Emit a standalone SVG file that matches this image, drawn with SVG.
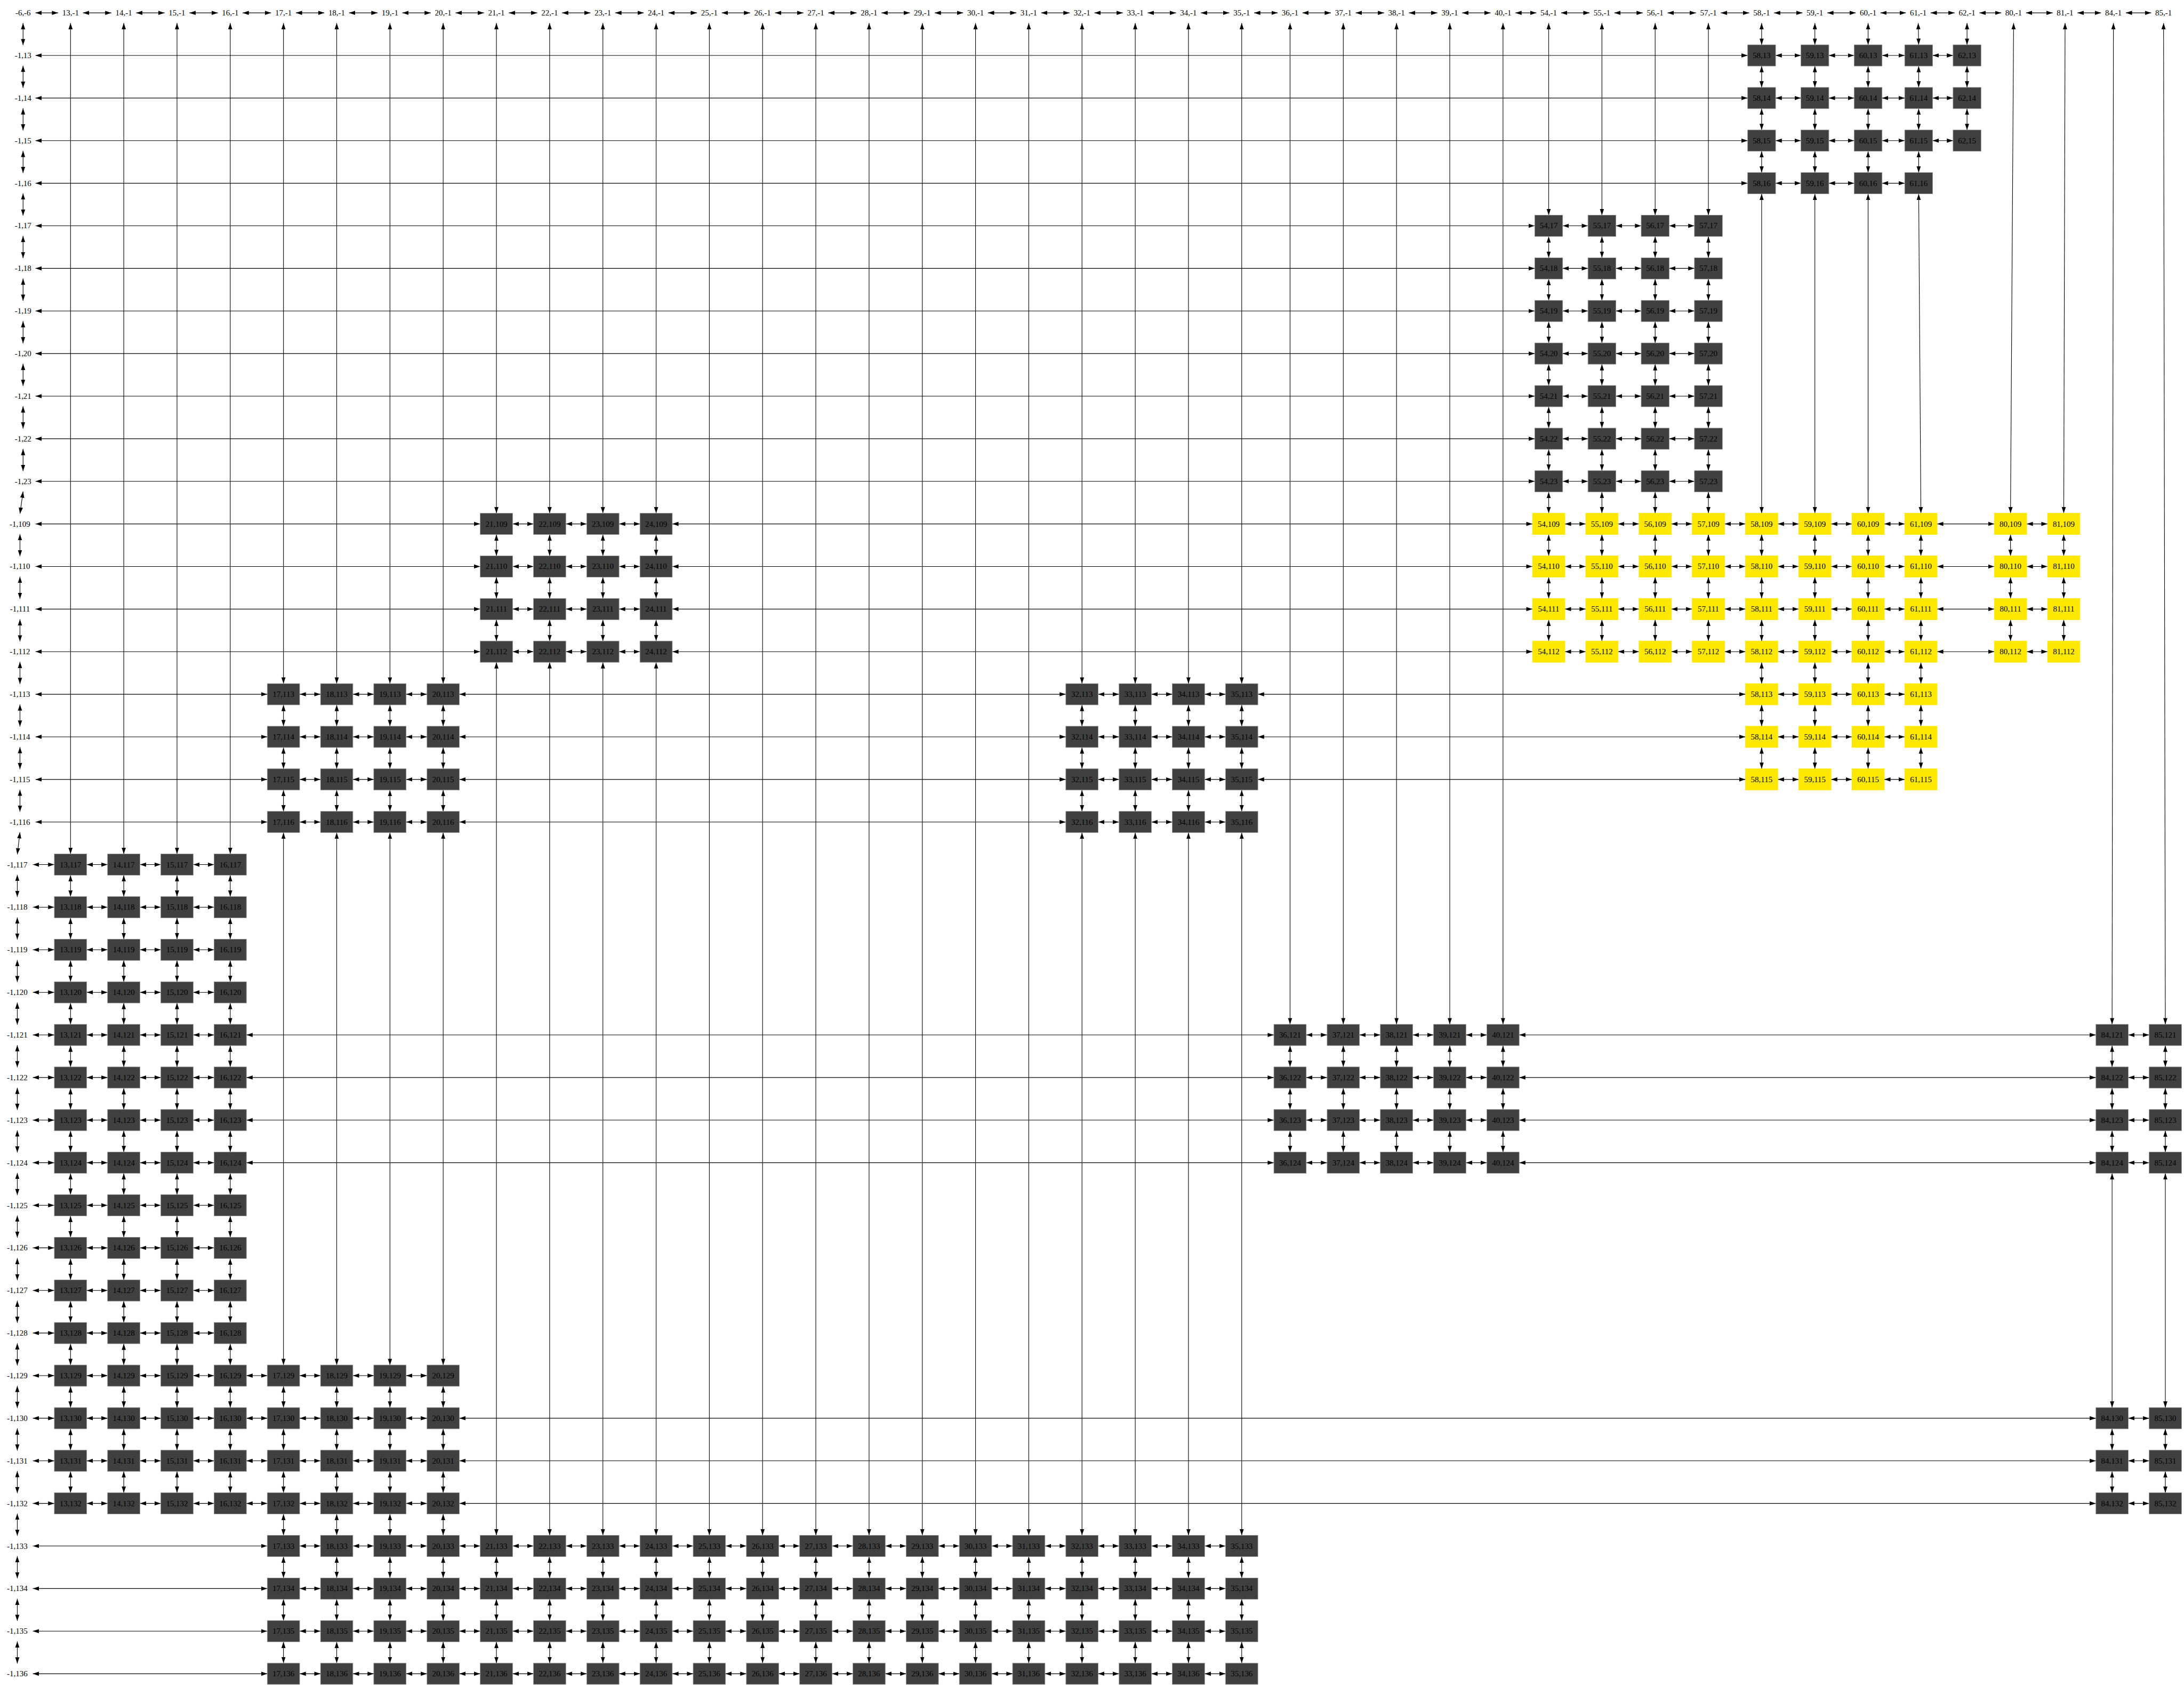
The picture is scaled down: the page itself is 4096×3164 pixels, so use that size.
<svg xmlns="http://www.w3.org/2000/svg" xmlns:xlink="http://www.w3.org/1999/xlink" width="4096" height="3164" viewBox="0 0 4096 3164">
<style>
text{font-family:"Liberation Serif","Times New Roman",serif;font-size:18px;text-anchor:middle;dominant-baseline:central;fill:#000}
.dk use{fill:#404040;stroke:#999;stroke-width:1}
.yl use{fill:#ffe800;stroke:#ffe800;stroke-width:1}
#edges path{fill:none;stroke:#000;stroke-width:1.33;marker-start:url(#a);marker-end:url(#a)}
</style>
<defs>
<rect id="s" x="-31.5" y="-24" width="63" height="48"/>
<rect id="w" x="-36.5" y="-24" width="73" height="48"/>
<marker id="a" viewBox="0 0 14 10" refX="14" refY="5" markerWidth="14" markerHeight="10" markerUnits="userSpaceOnUse" orient="auto-start-reverse"><path d="M0 0.3L14 5L0 9.7Z" fill="#000"/></marker>
</defs>
<rect width="4096" height="3164" fill="#fff"/>
<g transform="scale(0.832)">
<g id="edges">
<path d="M80 29H131"/><path d="M187 29H251"/><path d="M307 29H371"/><path d="M427 29H491"/><path d="M547 29H611"/><path d="M667 29H731"/><path d="M787 29H851"/><path d="M907 29H971"/><path d="M1027 29H1091"/><path d="M1147 29H1211"/><path d="M1267 29H1331"/><path d="M1387 29H1451"/><path d="M1507 29H1571"/><path d="M1627 29H1691"/><path d="M1747 29H1811"/><path d="M1867 29H1931"/><path d="M1987 29H2051"/><path d="M2107 29H2171"/><path d="M2227 29H2291"/><path d="M2347 29H2411"/><path d="M2467 29H2531"/><path d="M2587 29H2651"/><path d="M2707 29H2771"/><path d="M2827 29H2880"/><path d="M2936 29H3000"/><path d="M3056 29H3120"/><path d="M3176 29H3240"/><path d="M3296 29H3360"/><path d="M3416 29H3463"/><path d="M3519 29H3583"/><path d="M3639 29H3703"/><path d="M3759 29H3823"/><path d="M3879 29H3943"/><path d="M3999 29H4063"/><path d="M4119 29H4183"/><path d="M4239 29H4296"/><path d="M4352 29H4406"/><path d="M4462 29H4511"/><path d="M4567 29H4627"/><path d="M4683 29H4736"/><path d="M4792 29H4849"/>
<path d="M52 52V102"/><path d="M52 148V198"/><path d="M52 244V294"/><path d="M52 340V390"/><path d="M52 436V486"/><path d="M52 532V582"/><path d="M52 628V678"/><path d="M52 724V774"/><path d="M52 820V870"/><path d="M52 916V966"/><path d="M52 1012V1062"/><path d="M52 1108L45 1158"/><path d="M45 1204V1254"/><path d="M45 1300V1350"/><path d="M45 1396V1446"/><path d="M45 1492V1542"/><path d="M45 1588V1638"/><path d="M45 1684V1734"/><path d="M45 1780V1830"/><path d="M45 1876L39 1926"/><path d="M39 1972V2022"/><path d="M39 2068V2118"/><path d="M39 2164V2214"/><path d="M39 2260V2310"/><path d="M39 2356V2406"/><path d="M39 2452V2502"/><path d="M39 2548V2598"/><path d="M39 2644V2694"/><path d="M39 2740V2790"/><path d="M39 2836V2886"/><path d="M39 2932V2982"/><path d="M39 3028V3078"/><path d="M39 3124V3174"/><path d="M39 3220V3270"/><path d="M39 3316V3366"/><path d="M39 3412V3462"/><path d="M39 3508V3558"/><path d="M39 3604V3654"/><path d="M39 3700V3750"/>
<path d="M80 125H3939.5"/><path d="M4002.5 125H4059.5"/><path d="M4122.5 125H4179.5"/><path d="M4242.5 125H4293.5"/><path d="M4356.5 125H4402.5"/>
<path d="M80 221H3939.5"/><path d="M4002.5 221H4059.5"/><path d="M4122.5 221H4179.5"/><path d="M4242.5 221H4293.5"/><path d="M4356.5 221H4402.5"/>
<path d="M80 317H3939.5"/><path d="M4002.5 317H4059.5"/><path d="M4122.5 317H4179.5"/><path d="M4242.5 317H4293.5"/><path d="M4356.5 317H4402.5"/>
<path d="M80 413H3939.5"/><path d="M4002.5 413H4059.5"/><path d="M4122.5 413H4179.5"/><path d="M4242.5 413H4293.5"/>
<path d="M80 509H3459.5"/><path d="M3522.5 509H3579.5"/><path d="M3642.5 509H3699.5"/><path d="M3762.5 509H3819.5"/>
<path d="M80 605H3459.5"/><path d="M3522.5 605H3579.5"/><path d="M3642.5 605H3699.5"/><path d="M3762.5 605H3819.5"/>
<path d="M80 701H3459.5"/><path d="M3522.5 701H3579.5"/><path d="M3642.5 701H3699.5"/><path d="M3762.5 701H3819.5"/>
<path d="M80 797H3459.5"/><path d="M3522.5 797H3579.5"/><path d="M3642.5 797H3699.5"/><path d="M3762.5 797H3819.5"/>
<path d="M80 893H3459.5"/><path d="M3522.5 893H3579.5"/><path d="M3642.5 893H3699.5"/><path d="M3762.5 893H3819.5"/>
<path d="M80 989H3459.5"/><path d="M3522.5 989H3579.5"/><path d="M3642.5 989H3699.5"/><path d="M3762.5 989H3819.5"/>
<path d="M80 1085H3459.5"/><path d="M3522.5 1085H3579.5"/><path d="M3642.5 1085H3699.5"/><path d="M3762.5 1085H3819.5"/>
<path d="M80 1181H1082.5"/><path d="M1155.5 1181H1202.5"/><path d="M1275.5 1181H1322.5"/><path d="M1395.5 1181H1442.5"/><path d="M1515.5 1181H3454.5"/><path d="M3527.5 1181H3574.5"/><path d="M3647.5 1181H3694.5"/><path d="M3767.5 1181H3814.5"/><path d="M3887.5 1181H3934.5"/><path d="M4007.5 1181H4054.5"/><path d="M4127.5 1181H4174.5"/><path d="M4247.5 1181H4293.5"/><path d="M4366.5 1181H4495.5"/><path d="M4568.5 1181H4615.5"/>
<path d="M80 1277H1082.5"/><path d="M1155.5 1277H1202.5"/><path d="M1275.5 1277H1322.5"/><path d="M1395.5 1277H1442.5"/><path d="M1515.5 1277H3454.5"/><path d="M3527.5 1277H3574.5"/><path d="M3647.5 1277H3694.5"/><path d="M3767.5 1277H3814.5"/><path d="M3887.5 1277H3934.5"/><path d="M4007.5 1277H4054.5"/><path d="M4127.5 1277H4174.5"/><path d="M4247.5 1277H4293.5"/><path d="M4366.5 1277H4495.5"/><path d="M4568.5 1277H4615.5"/>
<path d="M80 1373H1082.5"/><path d="M1155.5 1373H1202.5"/><path d="M1275.5 1373H1322.5"/><path d="M1395.5 1373H1442.5"/><path d="M1515.5 1373H3454.5"/><path d="M3527.5 1373H3574.5"/><path d="M3647.5 1373H3694.5"/><path d="M3767.5 1373H3814.5"/><path d="M3887.5 1373H3934.5"/><path d="M4007.5 1373H4054.5"/><path d="M4127.5 1373H4174.5"/><path d="M4247.5 1373H4293.5"/><path d="M4366.5 1373H4495.5"/><path d="M4568.5 1373H4615.5"/>
<path d="M80 1469H1082.5"/><path d="M1155.5 1469H1202.5"/><path d="M1275.5 1469H1322.5"/><path d="M1395.5 1469H1442.5"/><path d="M1515.5 1469H3454.5"/><path d="M3527.5 1469H3574.5"/><path d="M3647.5 1469H3694.5"/><path d="M3767.5 1469H3814.5"/><path d="M3887.5 1469H3934.5"/><path d="M4007.5 1469H4054.5"/><path d="M4127.5 1469H4174.5"/><path d="M4247.5 1469H4293.5"/><path d="M4366.5 1469H4495.5"/><path d="M4568.5 1469H4615.5"/>
<path d="M80 1565H602.5"/><path d="M675.5 1565H722.5"/><path d="M795.5 1565H842.5"/><path d="M915.5 1565H962.5"/><path d="M1035.5 1565H2402.5"/><path d="M2475.5 1565H2522.5"/><path d="M2595.5 1565H2642.5"/><path d="M2715.5 1565H2762.5"/><path d="M2835.5 1565H3934.5"/><path d="M4007.5 1565H4054.5"/><path d="M4127.5 1565H4174.5"/><path d="M4247.5 1565H4293.5"/>
<path d="M80 1661H602.5"/><path d="M675.5 1661H722.5"/><path d="M795.5 1661H842.5"/><path d="M915.5 1661H962.5"/><path d="M1035.5 1661H2402.5"/><path d="M2475.5 1661H2522.5"/><path d="M2595.5 1661H2642.5"/><path d="M2715.5 1661H2762.5"/><path d="M2835.5 1661H3934.5"/><path d="M4007.5 1661H4054.5"/><path d="M4127.5 1661H4174.5"/><path d="M4247.5 1661H4293.5"/>
<path d="M80 1757H602.5"/><path d="M675.5 1757H722.5"/><path d="M795.5 1757H842.5"/><path d="M915.5 1757H962.5"/><path d="M1035.5 1757H2402.5"/><path d="M2475.5 1757H2522.5"/><path d="M2595.5 1757H2642.5"/><path d="M2715.5 1757H2762.5"/><path d="M2835.5 1757H3934.5"/><path d="M4007.5 1757H4054.5"/><path d="M4127.5 1757H4174.5"/><path d="M4247.5 1757H4293.5"/>
<path d="M80 1853H602.5"/><path d="M675.5 1853H722.5"/><path d="M795.5 1853H842.5"/><path d="M915.5 1853H962.5"/><path d="M1035.5 1853H2402.5"/><path d="M2475.5 1853H2522.5"/><path d="M2595.5 1853H2642.5"/><path d="M2715.5 1853H2762.5"/>
<path d="M74 1949H122.5"/><path d="M195.5 1949H242.5"/><path d="M315.5 1949H362.5"/><path d="M435.5 1949H482.5"/>
<path d="M74 2045H122.5"/><path d="M195.5 2045H242.5"/><path d="M315.5 2045H362.5"/><path d="M435.5 2045H482.5"/>
<path d="M74 2141H122.5"/><path d="M195.5 2141H242.5"/><path d="M315.5 2141H362.5"/><path d="M435.5 2141H482.5"/>
<path d="M74 2237H122.5"/><path d="M195.5 2237H242.5"/><path d="M315.5 2237H362.5"/><path d="M435.5 2237H482.5"/>
<path d="M74 2333H122.5"/><path d="M195.5 2333H242.5"/><path d="M315.5 2333H362.5"/><path d="M435.5 2333H482.5"/><path d="M555.5 2333H2871.5"/><path d="M2944.5 2333H2991.5"/><path d="M3064.5 2333H3111.5"/><path d="M3184.5 2333H3231.5"/><path d="M3304.5 2333H3351.5"/><path d="M3424.5 2333H4724.5"/><path d="M4797.5 2333H4844.5"/>
<path d="M74 2429H122.5"/><path d="M195.5 2429H242.5"/><path d="M315.5 2429H362.5"/><path d="M435.5 2429H482.5"/><path d="M555.5 2429H2871.5"/><path d="M2944.5 2429H2991.5"/><path d="M3064.5 2429H3111.5"/><path d="M3184.5 2429H3231.5"/><path d="M3304.5 2429H3351.5"/><path d="M3424.5 2429H4724.5"/><path d="M4797.5 2429H4844.5"/>
<path d="M74 2525H122.5"/><path d="M195.5 2525H242.5"/><path d="M315.5 2525H362.5"/><path d="M435.5 2525H482.5"/><path d="M555.5 2525H2871.5"/><path d="M2944.5 2525H2991.5"/><path d="M3064.5 2525H3111.5"/><path d="M3184.5 2525H3231.5"/><path d="M3304.5 2525H3351.5"/><path d="M3424.5 2525H4724.5"/><path d="M4797.5 2525H4844.5"/>
<path d="M74 2621H122.5"/><path d="M195.5 2621H242.5"/><path d="M315.5 2621H362.5"/><path d="M435.5 2621H482.5"/><path d="M555.5 2621H2871.5"/><path d="M2944.5 2621H2991.5"/><path d="M3064.5 2621H3111.5"/><path d="M3184.5 2621H3231.5"/><path d="M3304.5 2621H3351.5"/><path d="M3424.5 2621H4724.5"/><path d="M4797.5 2621H4844.5"/>
<path d="M74 2717H122.5"/><path d="M195.5 2717H242.5"/><path d="M315.5 2717H362.5"/><path d="M435.5 2717H482.5"/>
<path d="M74 2813H122.5"/><path d="M195.5 2813H242.5"/><path d="M315.5 2813H362.5"/><path d="M435.5 2813H482.5"/>
<path d="M74 2909H122.5"/><path d="M195.5 2909H242.5"/><path d="M315.5 2909H362.5"/><path d="M435.5 2909H482.5"/>
<path d="M74 3005H122.5"/><path d="M195.5 3005H242.5"/><path d="M315.5 3005H362.5"/><path d="M435.5 3005H482.5"/>
<path d="M74 3101H122.5"/><path d="M195.5 3101H242.5"/><path d="M315.5 3101H362.5"/><path d="M435.5 3101H482.5"/><path d="M555.5 3101H602.5"/><path d="M675.5 3101H722.5"/><path d="M795.5 3101H842.5"/><path d="M915.5 3101H962.5"/>
<path d="M74 3197H122.5"/><path d="M195.5 3197H242.5"/><path d="M315.5 3197H362.5"/><path d="M435.5 3197H482.5"/><path d="M555.5 3197H602.5"/><path d="M675.5 3197H722.5"/><path d="M795.5 3197H842.5"/><path d="M915.5 3197H962.5"/><path d="M1035.5 3197H4724.5"/><path d="M4797.5 3197H4844.5"/>
<path d="M74 3293H122.5"/><path d="M195.5 3293H242.5"/><path d="M315.5 3293H362.5"/><path d="M435.5 3293H482.5"/><path d="M555.5 3293H602.5"/><path d="M675.5 3293H722.5"/><path d="M795.5 3293H842.5"/><path d="M915.5 3293H962.5"/><path d="M1035.5 3293H4724.5"/><path d="M4797.5 3293H4844.5"/>
<path d="M74 3389H122.5"/><path d="M195.5 3389H242.5"/><path d="M315.5 3389H362.5"/><path d="M435.5 3389H482.5"/><path d="M555.5 3389H602.5"/><path d="M675.5 3389H722.5"/><path d="M795.5 3389H842.5"/><path d="M915.5 3389H962.5"/><path d="M1035.5 3389H4724.5"/><path d="M4797.5 3389H4844.5"/>
<path d="M74 3485H602.5"/><path d="M675.5 3485H722.5"/><path d="M795.5 3485H842.5"/><path d="M915.5 3485H962.5"/><path d="M1035.5 3485H1082.5"/><path d="M1155.5 3485H1202.5"/><path d="M1275.5 3485H1322.5"/><path d="M1395.5 3485H1442.5"/><path d="M1515.5 3485H1562.5"/><path d="M1635.5 3485H1682.5"/><path d="M1755.5 3485H1802.5"/><path d="M1875.5 3485H1922.5"/><path d="M1995.5 3485H2042.5"/><path d="M2115.5 3485H2162.5"/><path d="M2235.5 3485H2282.5"/><path d="M2355.5 3485H2402.5"/><path d="M2475.5 3485H2522.5"/><path d="M2595.5 3485H2642.5"/><path d="M2715.5 3485H2762.5"/>
<path d="M74 3581H602.5"/><path d="M675.5 3581H722.5"/><path d="M795.5 3581H842.5"/><path d="M915.5 3581H962.5"/><path d="M1035.5 3581H1082.5"/><path d="M1155.5 3581H1202.5"/><path d="M1275.5 3581H1322.5"/><path d="M1395.5 3581H1442.5"/><path d="M1515.5 3581H1562.5"/><path d="M1635.5 3581H1682.5"/><path d="M1755.5 3581H1802.5"/><path d="M1875.5 3581H1922.5"/><path d="M1995.5 3581H2042.5"/><path d="M2115.5 3581H2162.5"/><path d="M2235.5 3581H2282.5"/><path d="M2355.5 3581H2402.5"/><path d="M2475.5 3581H2522.5"/><path d="M2595.5 3581H2642.5"/><path d="M2715.5 3581H2762.5"/>
<path d="M74 3677H602.5"/><path d="M675.5 3677H722.5"/><path d="M795.5 3677H842.5"/><path d="M915.5 3677H962.5"/><path d="M1035.5 3677H1082.5"/><path d="M1155.5 3677H1202.5"/><path d="M1275.5 3677H1322.5"/><path d="M1395.5 3677H1442.5"/><path d="M1515.5 3677H1562.5"/><path d="M1635.5 3677H1682.5"/><path d="M1755.5 3677H1802.5"/><path d="M1875.5 3677H1922.5"/><path d="M1995.5 3677H2042.5"/><path d="M2115.5 3677H2162.5"/><path d="M2235.5 3677H2282.5"/><path d="M2355.5 3677H2402.5"/><path d="M2475.5 3677H2522.5"/><path d="M2595.5 3677H2642.5"/><path d="M2715.5 3677H2762.5"/>
<path d="M74 3773H602.5"/><path d="M675.5 3773H722.5"/><path d="M795.5 3773H842.5"/><path d="M915.5 3773H962.5"/><path d="M1035.5 3773H1082.5"/><path d="M1155.5 3773H1202.5"/><path d="M1275.5 3773H1322.5"/><path d="M1395.5 3773H1442.5"/><path d="M1515.5 3773H1562.5"/><path d="M1635.5 3773H1682.5"/><path d="M1755.5 3773H1802.5"/><path d="M1875.5 3773H1922.5"/><path d="M1995.5 3773H2042.5"/><path d="M2115.5 3773H2162.5"/><path d="M2235.5 3773H2282.5"/><path d="M2355.5 3773H2402.5"/><path d="M2475.5 3773H2522.5"/><path d="M2595.5 3773H2642.5"/><path d="M2715.5 3773H2762.5"/>
<path d="M159 52V1925"/><path d="M159 1973V2021"/><path d="M159 2069V2117"/><path d="M159 2165V2213"/><path d="M159 2261V2309"/><path d="M159 2357V2405"/><path d="M159 2453V2501"/><path d="M159 2549V2597"/><path d="M159 2645V2693"/><path d="M159 2741V2789"/><path d="M159 2837V2885"/><path d="M159 2933V2981"/><path d="M159 3029V3077"/><path d="M159 3125V3173"/><path d="M159 3221V3269"/><path d="M159 3317V3365"/>
<path d="M279 52V1925"/><path d="M279 1973V2021"/><path d="M279 2069V2117"/><path d="M279 2165V2213"/><path d="M279 2261V2309"/><path d="M279 2357V2405"/><path d="M279 2453V2501"/><path d="M279 2549V2597"/><path d="M279 2645V2693"/><path d="M279 2741V2789"/><path d="M279 2837V2885"/><path d="M279 2933V2981"/><path d="M279 3029V3077"/><path d="M279 3125V3173"/><path d="M279 3221V3269"/><path d="M279 3317V3365"/>
<path d="M399 52V1925"/><path d="M399 1973V2021"/><path d="M399 2069V2117"/><path d="M399 2165V2213"/><path d="M399 2261V2309"/><path d="M399 2357V2405"/><path d="M399 2453V2501"/><path d="M399 2549V2597"/><path d="M399 2645V2693"/><path d="M399 2741V2789"/><path d="M399 2837V2885"/><path d="M399 2933V2981"/><path d="M399 3029V3077"/><path d="M399 3125V3173"/><path d="M399 3221V3269"/><path d="M399 3317V3365"/>
<path d="M519 52V1925"/><path d="M519 1973V2021"/><path d="M519 2069V2117"/><path d="M519 2165V2213"/><path d="M519 2261V2309"/><path d="M519 2357V2405"/><path d="M519 2453V2501"/><path d="M519 2549V2597"/><path d="M519 2645V2693"/><path d="M519 2741V2789"/><path d="M519 2837V2885"/><path d="M519 2933V2981"/><path d="M519 3029V3077"/><path d="M519 3125V3173"/><path d="M519 3221V3269"/><path d="M519 3317V3365"/>
<path d="M639 52V1541"/><path d="M639 1589V1637"/><path d="M639 1685V1733"/><path d="M639 1781V1829"/><path d="M639 1877V3077"/><path d="M639 3125V3173"/><path d="M639 3221V3269"/><path d="M639 3317V3365"/><path d="M639 3413V3461"/><path d="M639 3509V3557"/><path d="M639 3605V3653"/><path d="M639 3701V3749"/>
<path d="M759 52V1541"/><path d="M759 1589V1637"/><path d="M759 1685V1733"/><path d="M759 1781V1829"/><path d="M759 1877V3077"/><path d="M759 3125V3173"/><path d="M759 3221V3269"/><path d="M759 3317V3365"/><path d="M759 3413V3461"/><path d="M759 3509V3557"/><path d="M759 3605V3653"/><path d="M759 3701V3749"/>
<path d="M879 52V1541"/><path d="M879 1589V1637"/><path d="M879 1685V1733"/><path d="M879 1781V1829"/><path d="M879 1877V3077"/><path d="M879 3125V3173"/><path d="M879 3221V3269"/><path d="M879 3317V3365"/><path d="M879 3413V3461"/><path d="M879 3509V3557"/><path d="M879 3605V3653"/><path d="M879 3701V3749"/>
<path d="M999 52V1541"/><path d="M999 1589V1637"/><path d="M999 1685V1733"/><path d="M999 1781V1829"/><path d="M999 1877V3077"/><path d="M999 3125V3173"/><path d="M999 3221V3269"/><path d="M999 3317V3365"/><path d="M999 3413V3461"/><path d="M999 3509V3557"/><path d="M999 3605V3653"/><path d="M999 3701V3749"/>
<path d="M1119 52V1157"/><path d="M1119 1205V1253"/><path d="M1119 1301V1349"/><path d="M1119 1397V1445"/><path d="M1119 1493V3461"/><path d="M1119 3509V3557"/><path d="M1119 3605V3653"/><path d="M1119 3701V3749"/>
<path d="M1239 52V1157"/><path d="M1239 1205V1253"/><path d="M1239 1301V1349"/><path d="M1239 1397V1445"/><path d="M1239 1493V3461"/><path d="M1239 3509V3557"/><path d="M1239 3605V3653"/><path d="M1239 3701V3749"/>
<path d="M1359 52V1157"/><path d="M1359 1205V1253"/><path d="M1359 1301V1349"/><path d="M1359 1397V1445"/><path d="M1359 1493V3461"/><path d="M1359 3509V3557"/><path d="M1359 3605V3653"/><path d="M1359 3701V3749"/>
<path d="M1479 52V1157"/><path d="M1479 1205V1253"/><path d="M1479 1301V1349"/><path d="M1479 1397V1445"/><path d="M1479 1493V3461"/><path d="M1479 3509V3557"/><path d="M1479 3605V3653"/><path d="M1479 3701V3749"/>
<path d="M1599 52V3461"/><path d="M1599 3509V3557"/><path d="M1599 3605V3653"/><path d="M1599 3701V3749"/>
<path d="M1719 52V3461"/><path d="M1719 3509V3557"/><path d="M1719 3605V3653"/><path d="M1719 3701V3749"/>
<path d="M1839 52V3461"/><path d="M1839 3509V3557"/><path d="M1839 3605V3653"/><path d="M1839 3701V3749"/>
<path d="M1959 52V3461"/><path d="M1959 3509V3557"/><path d="M1959 3605V3653"/><path d="M1959 3701V3749"/>
<path d="M2079 52V3461"/><path d="M2079 3509V3557"/><path d="M2079 3605V3653"/><path d="M2079 3701V3749"/>
<path d="M2199 52V3461"/><path d="M2199 3509V3557"/><path d="M2199 3605V3653"/><path d="M2199 3701V3749"/>
<path d="M2319 52V3461"/><path d="M2319 3509V3557"/><path d="M2319 3605V3653"/><path d="M2319 3701V3749"/>
<path d="M2439 52V1541"/><path d="M2439 1589V1637"/><path d="M2439 1685V1733"/><path d="M2439 1781V1829"/><path d="M2439 1877V3461"/><path d="M2439 3509V3557"/><path d="M2439 3605V3653"/><path d="M2439 3701V3749"/>
<path d="M2559 52V1541"/><path d="M2559 1589V1637"/><path d="M2559 1685V1733"/><path d="M2559 1781V1829"/><path d="M2559 1877V3461"/><path d="M2559 3509V3557"/><path d="M2559 3605V3653"/><path d="M2559 3701V3749"/>
<path d="M2679 52V1541"/><path d="M2679 1589V1637"/><path d="M2679 1685V1733"/><path d="M2679 1781V1829"/><path d="M2679 1877V3461"/><path d="M2679 3509V3557"/><path d="M2679 3605V3653"/><path d="M2679 3701V3749"/>
<path d="M2799 52V1541"/><path d="M2799 1589V1637"/><path d="M2799 1685V1733"/><path d="M2799 1781V1829"/><path d="M2799 1877V3461"/><path d="M2799 3509V3557"/><path d="M2799 3605V3653"/><path d="M2799 3701V3749"/>
<path d="M2908 52V2309"/><path d="M2908 2357V2405"/><path d="M2908 2453V2501"/><path d="M2908 2549V2597"/>
<path d="M3028 52V2309"/><path d="M3028 2357V2405"/><path d="M3028 2453V2501"/><path d="M3028 2549V2597"/>
<path d="M3148 52V2309"/><path d="M3148 2357V2405"/><path d="M3148 2453V2501"/><path d="M3148 2549V2597"/>
<path d="M3268 52V2309"/><path d="M3268 2357V2405"/><path d="M3268 2453V2501"/><path d="M3268 2549V2597"/>
<path d="M3388 52V2309"/><path d="M3388 2357V2405"/><path d="M3388 2453V2501"/><path d="M3388 2549V2597"/>
<path d="M3491 52V485"/><path d="M3491 533V581"/><path d="M3491 629V677"/><path d="M3491 725V773"/><path d="M3491 821V869"/><path d="M3491 917V965"/><path d="M3491 1013V1061"/><path d="M3491 1109V1157"/><path d="M3491 1205V1253"/><path d="M3491 1301V1349"/><path d="M3491 1397V1445"/>
<path d="M3611 52V485"/><path d="M3611 533V581"/><path d="M3611 629V677"/><path d="M3611 725V773"/><path d="M3611 821V869"/><path d="M3611 917V965"/><path d="M3611 1013V1061"/><path d="M3611 1109V1157"/><path d="M3611 1205V1253"/><path d="M3611 1301V1349"/><path d="M3611 1397V1445"/>
<path d="M3731 52V485"/><path d="M3731 533V581"/><path d="M3731 629V677"/><path d="M3731 725V773"/><path d="M3731 821V869"/><path d="M3731 917V965"/><path d="M3731 1013V1061"/><path d="M3731 1109V1157"/><path d="M3731 1205V1253"/><path d="M3731 1301V1349"/><path d="M3731 1397V1445"/>
<path d="M3851 52V485"/><path d="M3851 533V581"/><path d="M3851 629V677"/><path d="M3851 725V773"/><path d="M3851 821V869"/><path d="M3851 917V965"/><path d="M3851 1013V1061"/><path d="M3851 1109V1157"/><path d="M3851 1205V1253"/><path d="M3851 1301V1349"/><path d="M3851 1397V1445"/>
<path d="M3971 52V101"/><path d="M3971 149V197"/><path d="M3971 245V293"/><path d="M3971 341V389"/><path d="M3971 437V1157"/><path d="M3971 1205V1253"/><path d="M3971 1301V1349"/><path d="M3971 1397V1445"/><path d="M3971 1493V1541"/><path d="M3971 1589V1637"/><path d="M3971 1685V1733"/>
<path d="M4091 52V101"/><path d="M4091 149V197"/><path d="M4091 245V293"/><path d="M4091 341V389"/><path d="M4091 437V1157"/><path d="M4091 1205V1253"/><path d="M4091 1301V1349"/><path d="M4091 1397V1445"/><path d="M4091 1493V1541"/><path d="M4091 1589V1637"/><path d="M4091 1685V1733"/>
<path d="M4211 52V101"/><path d="M4211 149V197"/><path d="M4211 245V293"/><path d="M4211 341V389"/><path d="M4211 437V1157"/><path d="M4211 1205V1253"/><path d="M4211 1301V1349"/><path d="M4211 1397V1445"/><path d="M4211 1493V1541"/><path d="M4211 1589V1637"/><path d="M4211 1685V1733"/>
<path d="M4324 52L4325 101"/><path d="M4325 149V197"/><path d="M4325 245V293"/><path d="M4325 341V389"/><path d="M4325 437L4330 1157"/><path d="M4330 1205V1253"/><path d="M4330 1301V1349"/><path d="M4330 1397V1445"/><path d="M4330 1493V1541"/><path d="M4330 1589V1637"/><path d="M4330 1685V1733"/>
<path d="M4434 52V101"/><path d="M4434 149V197"/><path d="M4434 245V293"/>
<path d="M4539 52L4532 1157"/><path d="M4532 1205V1253"/><path d="M4532 1301V1349"/><path d="M4532 1397V1445"/>
<path d="M4655 52L4652 1157"/><path d="M4652 1205V1253"/><path d="M4652 1301V1349"/><path d="M4652 1397V1445"/>
<path d="M4764 52L4761 2309"/><path d="M4761 2357V2405"/><path d="M4761 2453V2501"/><path d="M4761 2549V2597"/><path d="M4761 2645V3173"/><path d="M4761 3221V3269"/><path d="M4761 3317V3365"/>
<path d="M4877 52L4881 2309"/><path d="M4881 2357V2405"/><path d="M4881 2453V2501"/><path d="M4881 2549V2597"/><path d="M4881 2645V3173"/><path d="M4881 3221V3269"/><path d="M4881 3317V3365"/>
</g>
<g id="labels">
<text id="h-6" x="52" y="29">-6,-6</text>
<text id="h13" x="159" y="29">13,-1</text><text id="h14" x="279" y="29">14,-1</text><text id="h15" x="399" y="29">15,-1</text><text id="h16" x="519" y="29">16,-1</text><text id="h17" x="639" y="29">17,-1</text><text id="h18" x="759" y="29">18,-1</text><text id="h19" x="879" y="29">19,-1</text><text id="h20" x="999" y="29">20,-1</text><text id="h21" x="1119" y="29">21,-1</text><text id="h22" x="1239" y="29">22,-1</text><text id="h23" x="1359" y="29">23,-1</text><text id="h24" x="1479" y="29">24,-1</text><text id="h25" x="1599" y="29">25,-1</text><text id="h26" x="1719" y="29">26,-1</text><text id="h27" x="1839" y="29">27,-1</text><text id="h28" x="1959" y="29">28,-1</text><text id="h29" x="2079" y="29">29,-1</text><text id="h30" x="2199" y="29">30,-1</text><text id="h31" x="2319" y="29">31,-1</text><text id="h32" x="2439" y="29">32,-1</text><text id="h33" x="2559" y="29">33,-1</text><text id="h34" x="2679" y="29">34,-1</text><text id="h35" x="2799" y="29">35,-1</text><text id="h36" x="2908" y="29">36,-1</text><text id="h37" x="3028" y="29">37,-1</text><text id="h38" x="3148" y="29">38,-1</text><text id="h39" x="3268" y="29">39,-1</text><text id="h40" x="3388" y="29">40,-1</text><text id="h54" x="3491" y="29">54,-1</text><text id="h55" x="3611" y="29">55,-1</text><text id="h56" x="3731" y="29">56,-1</text><text id="h57" x="3851" y="29">57,-1</text><text id="h58" x="3971" y="29">58,-1</text><text id="h59" x="4091" y="29">59,-1</text><text id="h60" x="4211" y="29">60,-1</text><text id="h61" x="4324" y="29">61,-1</text><text id="h62" x="4434" y="29">62,-1</text><text id="h80" x="4539" y="29">80,-1</text><text id="h81" x="4655" y="29">81,-1</text><text id="h84" x="4764" y="29">84,-1</text><text id="h85" x="4877" y="29">85,-1</text>
<text id="r13" x="52" y="125">-1,13</text><text id="r14" x="52" y="221">-1,14</text><text id="r15" x="52" y="317">-1,15</text><text id="r16" x="52" y="413">-1,16</text><text id="r17" x="52" y="509">-1,17</text><text id="r18" x="52" y="605">-1,18</text><text id="r19" x="52" y="701">-1,19</text><text id="r20" x="52" y="797">-1,20</text><text id="r21" x="52" y="893">-1,21</text><text id="r22" x="52" y="989">-1,22</text><text id="r23" x="52" y="1085">-1,23</text>
<text id="r109" x="45" y="1181">-1,109</text><text id="r110" x="45" y="1277">-1,110</text><text id="r111" x="45" y="1373">-1,111</text><text id="r112" x="45" y="1469">-1,112</text><text id="r113" x="45" y="1565">-1,113</text><text id="r114" x="45" y="1661">-1,114</text><text id="r115" x="45" y="1757">-1,115</text><text id="r116" x="45" y="1853">-1,116</text>
<text id="r117" x="39" y="1949">-1,117</text><text id="r118" x="39" y="2045">-1,118</text><text id="r119" x="39" y="2141">-1,119</text><text id="r120" x="39" y="2237">-1,120</text><text id="r121" x="39" y="2333">-1,121</text><text id="r122" x="39" y="2429">-1,122</text><text id="r123" x="39" y="2525">-1,123</text><text id="r124" x="39" y="2621">-1,124</text><text id="r125" x="39" y="2717">-1,125</text><text id="r126" x="39" y="2813">-1,126</text><text id="r127" x="39" y="2909">-1,127</text><text id="r128" x="39" y="3005">-1,128</text><text id="r129" x="39" y="3101">-1,129</text><text id="r130" x="39" y="3197">-1,130</text><text id="r131" x="39" y="3293">-1,131</text><text id="r132" x="39" y="3389">-1,132</text><text id="r133" x="39" y="3485">-1,133</text><text id="r134" x="39" y="3581">-1,134</text><text id="r135" x="39" y="3677">-1,135</text><text id="r136" x="39" y="3773">-1,136</text>
</g>
<g id="nodes">
<g class="dk">
<g id="n58-13" transform="translate(3971 125)"><use href="#s"/><text>58,13</text></g><g id="n59-13" transform="translate(4091 125)"><use href="#s"/><text>59,13</text></g><g id="n60-13" transform="translate(4211 125)"><use href="#s"/><text>60,13</text></g><g id="n61-13" transform="translate(4325 125)"><use href="#s"/><text>61,13</text></g><g id="n62-13" transform="translate(4434 125)"><use href="#s"/><text>62,13</text></g>
<g id="n58-14" transform="translate(3971 221)"><use href="#s"/><text>58,14</text></g><g id="n59-14" transform="translate(4091 221)"><use href="#s"/><text>59,14</text></g><g id="n60-14" transform="translate(4211 221)"><use href="#s"/><text>60,14</text></g><g id="n61-14" transform="translate(4325 221)"><use href="#s"/><text>61,14</text></g><g id="n62-14" transform="translate(4434 221)"><use href="#s"/><text>62,14</text></g>
<g id="n58-15" transform="translate(3971 317)"><use href="#s"/><text>58,15</text></g><g id="n59-15" transform="translate(4091 317)"><use href="#s"/><text>59,15</text></g><g id="n60-15" transform="translate(4211 317)"><use href="#s"/><text>60,15</text></g><g id="n61-15" transform="translate(4325 317)"><use href="#s"/><text>61,15</text></g><g id="n62-15" transform="translate(4434 317)"><use href="#s"/><text>62,15</text></g>
<g id="n58-16" transform="translate(3971 413)"><use href="#s"/><text>58,16</text></g><g id="n59-16" transform="translate(4091 413)"><use href="#s"/><text>59,16</text></g><g id="n60-16" transform="translate(4211 413)"><use href="#s"/><text>60,16</text></g><g id="n61-16" transform="translate(4325 413)"><use href="#s"/><text>61,16</text></g>
<g id="n54-17" transform="translate(3491 509)"><use href="#s"/><text>54,17</text></g><g id="n55-17" transform="translate(3611 509)"><use href="#s"/><text>55,17</text></g><g id="n56-17" transform="translate(3731 509)"><use href="#s"/><text>56,17</text></g><g id="n57-17" transform="translate(3851 509)"><use href="#s"/><text>57,17</text></g>
<g id="n54-18" transform="translate(3491 605)"><use href="#s"/><text>54,18</text></g><g id="n55-18" transform="translate(3611 605)"><use href="#s"/><text>55,18</text></g><g id="n56-18" transform="translate(3731 605)"><use href="#s"/><text>56,18</text></g><g id="n57-18" transform="translate(3851 605)"><use href="#s"/><text>57,18</text></g>
<g id="n54-19" transform="translate(3491 701)"><use href="#s"/><text>54,19</text></g><g id="n55-19" transform="translate(3611 701)"><use href="#s"/><text>55,19</text></g><g id="n56-19" transform="translate(3731 701)"><use href="#s"/><text>56,19</text></g><g id="n57-19" transform="translate(3851 701)"><use href="#s"/><text>57,19</text></g>
<g id="n54-20" transform="translate(3491 797)"><use href="#s"/><text>54,20</text></g><g id="n55-20" transform="translate(3611 797)"><use href="#s"/><text>55,20</text></g><g id="n56-20" transform="translate(3731 797)"><use href="#s"/><text>56,20</text></g><g id="n57-20" transform="translate(3851 797)"><use href="#s"/><text>57,20</text></g>
<g id="n54-21" transform="translate(3491 893)"><use href="#s"/><text>54,21</text></g><g id="n55-21" transform="translate(3611 893)"><use href="#s"/><text>55,21</text></g><g id="n56-21" transform="translate(3731 893)"><use href="#s"/><text>56,21</text></g><g id="n57-21" transform="translate(3851 893)"><use href="#s"/><text>57,21</text></g>
<g id="n54-22" transform="translate(3491 989)"><use href="#s"/><text>54,22</text></g><g id="n55-22" transform="translate(3611 989)"><use href="#s"/><text>55,22</text></g><g id="n56-22" transform="translate(3731 989)"><use href="#s"/><text>56,22</text></g><g id="n57-22" transform="translate(3851 989)"><use href="#s"/><text>57,22</text></g>
<g id="n54-23" transform="translate(3491 1085)"><use href="#s"/><text>54,23</text></g><g id="n55-23" transform="translate(3611 1085)"><use href="#s"/><text>55,23</text></g><g id="n56-23" transform="translate(3731 1085)"><use href="#s"/><text>56,23</text></g><g id="n57-23" transform="translate(3851 1085)"><use href="#s"/><text>57,23</text></g>
<g id="n21-109" transform="translate(1119 1181)"><use href="#w"/><text>21,109</text></g><g id="n22-109" transform="translate(1239 1181)"><use href="#w"/><text>22,109</text></g><g id="n23-109" transform="translate(1359 1181)"><use href="#w"/><text>23,109</text></g><g id="n24-109" transform="translate(1479 1181)"><use href="#w"/><text>24,109</text></g>
<g id="n21-110" transform="translate(1119 1277)"><use href="#w"/><text>21,110</text></g><g id="n22-110" transform="translate(1239 1277)"><use href="#w"/><text>22,110</text></g><g id="n23-110" transform="translate(1359 1277)"><use href="#w"/><text>23,110</text></g><g id="n24-110" transform="translate(1479 1277)"><use href="#w"/><text>24,110</text></g>
<g id="n21-111" transform="translate(1119 1373)"><use href="#w"/><text>21,111</text></g><g id="n22-111" transform="translate(1239 1373)"><use href="#w"/><text>22,111</text></g><g id="n23-111" transform="translate(1359 1373)"><use href="#w"/><text>23,111</text></g><g id="n24-111" transform="translate(1479 1373)"><use href="#w"/><text>24,111</text></g>
<g id="n21-112" transform="translate(1119 1469)"><use href="#w"/><text>21,112</text></g><g id="n22-112" transform="translate(1239 1469)"><use href="#w"/><text>22,112</text></g><g id="n23-112" transform="translate(1359 1469)"><use href="#w"/><text>23,112</text></g><g id="n24-112" transform="translate(1479 1469)"><use href="#w"/><text>24,112</text></g>
<g id="n17-113" transform="translate(639 1565)"><use href="#w"/><text>17,113</text></g><g id="n18-113" transform="translate(759 1565)"><use href="#w"/><text>18,113</text></g><g id="n19-113" transform="translate(879 1565)"><use href="#w"/><text>19,113</text></g><g id="n20-113" transform="translate(999 1565)"><use href="#w"/><text>20,113</text></g><g id="n32-113" transform="translate(2439 1565)"><use href="#w"/><text>32,113</text></g><g id="n33-113" transform="translate(2559 1565)"><use href="#w"/><text>33,113</text></g><g id="n34-113" transform="translate(2679 1565)"><use href="#w"/><text>34,113</text></g><g id="n35-113" transform="translate(2799 1565)"><use href="#w"/><text>35,113</text></g>
<g id="n17-114" transform="translate(639 1661)"><use href="#w"/><text>17,114</text></g><g id="n18-114" transform="translate(759 1661)"><use href="#w"/><text>18,114</text></g><g id="n19-114" transform="translate(879 1661)"><use href="#w"/><text>19,114</text></g><g id="n20-114" transform="translate(999 1661)"><use href="#w"/><text>20,114</text></g><g id="n32-114" transform="translate(2439 1661)"><use href="#w"/><text>32,114</text></g><g id="n33-114" transform="translate(2559 1661)"><use href="#w"/><text>33,114</text></g><g id="n34-114" transform="translate(2679 1661)"><use href="#w"/><text>34,114</text></g><g id="n35-114" transform="translate(2799 1661)"><use href="#w"/><text>35,114</text></g>
<g id="n17-115" transform="translate(639 1757)"><use href="#w"/><text>17,115</text></g><g id="n18-115" transform="translate(759 1757)"><use href="#w"/><text>18,115</text></g><g id="n19-115" transform="translate(879 1757)"><use href="#w"/><text>19,115</text></g><g id="n20-115" transform="translate(999 1757)"><use href="#w"/><text>20,115</text></g><g id="n32-115" transform="translate(2439 1757)"><use href="#w"/><text>32,115</text></g><g id="n33-115" transform="translate(2559 1757)"><use href="#w"/><text>33,115</text></g><g id="n34-115" transform="translate(2679 1757)"><use href="#w"/><text>34,115</text></g><g id="n35-115" transform="translate(2799 1757)"><use href="#w"/><text>35,115</text></g>
<g id="n17-116" transform="translate(639 1853)"><use href="#w"/><text>17,116</text></g><g id="n18-116" transform="translate(759 1853)"><use href="#w"/><text>18,116</text></g><g id="n19-116" transform="translate(879 1853)"><use href="#w"/><text>19,116</text></g><g id="n20-116" transform="translate(999 1853)"><use href="#w"/><text>20,116</text></g><g id="n32-116" transform="translate(2439 1853)"><use href="#w"/><text>32,116</text></g><g id="n33-116" transform="translate(2559 1853)"><use href="#w"/><text>33,116</text></g><g id="n34-116" transform="translate(2679 1853)"><use href="#w"/><text>34,116</text></g><g id="n35-116" transform="translate(2799 1853)"><use href="#w"/><text>35,116</text></g>
<g id="n13-117" transform="translate(159 1949)"><use href="#w"/><text>13,117</text></g><g id="n14-117" transform="translate(279 1949)"><use href="#w"/><text>14,117</text></g><g id="n15-117" transform="translate(399 1949)"><use href="#w"/><text>15,117</text></g><g id="n16-117" transform="translate(519 1949)"><use href="#w"/><text>16,117</text></g>
<g id="n13-118" transform="translate(159 2045)"><use href="#w"/><text>13,118</text></g><g id="n14-118" transform="translate(279 2045)"><use href="#w"/><text>14,118</text></g><g id="n15-118" transform="translate(399 2045)"><use href="#w"/><text>15,118</text></g><g id="n16-118" transform="translate(519 2045)"><use href="#w"/><text>16,118</text></g>
<g id="n13-119" transform="translate(159 2141)"><use href="#w"/><text>13,119</text></g><g id="n14-119" transform="translate(279 2141)"><use href="#w"/><text>14,119</text></g><g id="n15-119" transform="translate(399 2141)"><use href="#w"/><text>15,119</text></g><g id="n16-119" transform="translate(519 2141)"><use href="#w"/><text>16,119</text></g>
<g id="n13-120" transform="translate(159 2237)"><use href="#w"/><text>13,120</text></g><g id="n14-120" transform="translate(279 2237)"><use href="#w"/><text>14,120</text></g><g id="n15-120" transform="translate(399 2237)"><use href="#w"/><text>15,120</text></g><g id="n16-120" transform="translate(519 2237)"><use href="#w"/><text>16,120</text></g>
<g id="n13-121" transform="translate(159 2333)"><use href="#w"/><text>13,121</text></g><g id="n14-121" transform="translate(279 2333)"><use href="#w"/><text>14,121</text></g><g id="n15-121" transform="translate(399 2333)"><use href="#w"/><text>15,121</text></g><g id="n16-121" transform="translate(519 2333)"><use href="#w"/><text>16,121</text></g><g id="n36-121" transform="translate(2908 2333)"><use href="#w"/><text>36,121</text></g><g id="n37-121" transform="translate(3028 2333)"><use href="#w"/><text>37,121</text></g><g id="n38-121" transform="translate(3148 2333)"><use href="#w"/><text>38,121</text></g><g id="n39-121" transform="translate(3268 2333)"><use href="#w"/><text>39,121</text></g><g id="n40-121" transform="translate(3388 2333)"><use href="#w"/><text>40,121</text></g><g id="n84-121" transform="translate(4761 2333)"><use href="#w"/><text>84,121</text></g><g id="n85-121" transform="translate(4881 2333)"><use href="#w"/><text>85,121</text></g>
<g id="n13-122" transform="translate(159 2429)"><use href="#w"/><text>13,122</text></g><g id="n14-122" transform="translate(279 2429)"><use href="#w"/><text>14,122</text></g><g id="n15-122" transform="translate(399 2429)"><use href="#w"/><text>15,122</text></g><g id="n16-122" transform="translate(519 2429)"><use href="#w"/><text>16,122</text></g><g id="n36-122" transform="translate(2908 2429)"><use href="#w"/><text>36,122</text></g><g id="n37-122" transform="translate(3028 2429)"><use href="#w"/><text>37,122</text></g><g id="n38-122" transform="translate(3148 2429)"><use href="#w"/><text>38,122</text></g><g id="n39-122" transform="translate(3268 2429)"><use href="#w"/><text>39,122</text></g><g id="n40-122" transform="translate(3388 2429)"><use href="#w"/><text>40,122</text></g><g id="n84-122" transform="translate(4761 2429)"><use href="#w"/><text>84,122</text></g><g id="n85-122" transform="translate(4881 2429)"><use href="#w"/><text>85,122</text></g>
<g id="n13-123" transform="translate(159 2525)"><use href="#w"/><text>13,123</text></g><g id="n14-123" transform="translate(279 2525)"><use href="#w"/><text>14,123</text></g><g id="n15-123" transform="translate(399 2525)"><use href="#w"/><text>15,123</text></g><g id="n16-123" transform="translate(519 2525)"><use href="#w"/><text>16,123</text></g><g id="n36-123" transform="translate(2908 2525)"><use href="#w"/><text>36,123</text></g><g id="n37-123" transform="translate(3028 2525)"><use href="#w"/><text>37,123</text></g><g id="n38-123" transform="translate(3148 2525)"><use href="#w"/><text>38,123</text></g><g id="n39-123" transform="translate(3268 2525)"><use href="#w"/><text>39,123</text></g><g id="n40-123" transform="translate(3388 2525)"><use href="#w"/><text>40,123</text></g><g id="n84-123" transform="translate(4761 2525)"><use href="#w"/><text>84,123</text></g><g id="n85-123" transform="translate(4881 2525)"><use href="#w"/><text>85,123</text></g>
<g id="n13-124" transform="translate(159 2621)"><use href="#w"/><text>13,124</text></g><g id="n14-124" transform="translate(279 2621)"><use href="#w"/><text>14,124</text></g><g id="n15-124" transform="translate(399 2621)"><use href="#w"/><text>15,124</text></g><g id="n16-124" transform="translate(519 2621)"><use href="#w"/><text>16,124</text></g><g id="n36-124" transform="translate(2908 2621)"><use href="#w"/><text>36,124</text></g><g id="n37-124" transform="translate(3028 2621)"><use href="#w"/><text>37,124</text></g><g id="n38-124" transform="translate(3148 2621)"><use href="#w"/><text>38,124</text></g><g id="n39-124" transform="translate(3268 2621)"><use href="#w"/><text>39,124</text></g><g id="n40-124" transform="translate(3388 2621)"><use href="#w"/><text>40,124</text></g><g id="n84-124" transform="translate(4761 2621)"><use href="#w"/><text>84,124</text></g><g id="n85-124" transform="translate(4881 2621)"><use href="#w"/><text>85,124</text></g>
<g id="n13-125" transform="translate(159 2717)"><use href="#w"/><text>13,125</text></g><g id="n14-125" transform="translate(279 2717)"><use href="#w"/><text>14,125</text></g><g id="n15-125" transform="translate(399 2717)"><use href="#w"/><text>15,125</text></g><g id="n16-125" transform="translate(519 2717)"><use href="#w"/><text>16,125</text></g>
<g id="n13-126" transform="translate(159 2813)"><use href="#w"/><text>13,126</text></g><g id="n14-126" transform="translate(279 2813)"><use href="#w"/><text>14,126</text></g><g id="n15-126" transform="translate(399 2813)"><use href="#w"/><text>15,126</text></g><g id="n16-126" transform="translate(519 2813)"><use href="#w"/><text>16,126</text></g>
<g id="n13-127" transform="translate(159 2909)"><use href="#w"/><text>13,127</text></g><g id="n14-127" transform="translate(279 2909)"><use href="#w"/><text>14,127</text></g><g id="n15-127" transform="translate(399 2909)"><use href="#w"/><text>15,127</text></g><g id="n16-127" transform="translate(519 2909)"><use href="#w"/><text>16,127</text></g>
<g id="n13-128" transform="translate(159 3005)"><use href="#w"/><text>13,128</text></g><g id="n14-128" transform="translate(279 3005)"><use href="#w"/><text>14,128</text></g><g id="n15-128" transform="translate(399 3005)"><use href="#w"/><text>15,128</text></g><g id="n16-128" transform="translate(519 3005)"><use href="#w"/><text>16,128</text></g>
<g id="n13-129" transform="translate(159 3101)"><use href="#w"/><text>13,129</text></g><g id="n14-129" transform="translate(279 3101)"><use href="#w"/><text>14,129</text></g><g id="n15-129" transform="translate(399 3101)"><use href="#w"/><text>15,129</text></g><g id="n16-129" transform="translate(519 3101)"><use href="#w"/><text>16,129</text></g><g id="n17-129" transform="translate(639 3101)"><use href="#w"/><text>17,129</text></g><g id="n18-129" transform="translate(759 3101)"><use href="#w"/><text>18,129</text></g><g id="n19-129" transform="translate(879 3101)"><use href="#w"/><text>19,129</text></g><g id="n20-129" transform="translate(999 3101)"><use href="#w"/><text>20,129</text></g>
<g id="n13-130" transform="translate(159 3197)"><use href="#w"/><text>13,130</text></g><g id="n14-130" transform="translate(279 3197)"><use href="#w"/><text>14,130</text></g><g id="n15-130" transform="translate(399 3197)"><use href="#w"/><text>15,130</text></g><g id="n16-130" transform="translate(519 3197)"><use href="#w"/><text>16,130</text></g><g id="n17-130" transform="translate(639 3197)"><use href="#w"/><text>17,130</text></g><g id="n18-130" transform="translate(759 3197)"><use href="#w"/><text>18,130</text></g><g id="n19-130" transform="translate(879 3197)"><use href="#w"/><text>19,130</text></g><g id="n20-130" transform="translate(999 3197)"><use href="#w"/><text>20,130</text></g><g id="n84-130" transform="translate(4761 3197)"><use href="#w"/><text>84,130</text></g><g id="n85-130" transform="translate(4881 3197)"><use href="#w"/><text>85,130</text></g>
<g id="n13-131" transform="translate(159 3293)"><use href="#w"/><text>13,131</text></g><g id="n14-131" transform="translate(279 3293)"><use href="#w"/><text>14,131</text></g><g id="n15-131" transform="translate(399 3293)"><use href="#w"/><text>15,131</text></g><g id="n16-131" transform="translate(519 3293)"><use href="#w"/><text>16,131</text></g><g id="n17-131" transform="translate(639 3293)"><use href="#w"/><text>17,131</text></g><g id="n18-131" transform="translate(759 3293)"><use href="#w"/><text>18,131</text></g><g id="n19-131" transform="translate(879 3293)"><use href="#w"/><text>19,131</text></g><g id="n20-131" transform="translate(999 3293)"><use href="#w"/><text>20,131</text></g><g id="n84-131" transform="translate(4761 3293)"><use href="#w"/><text>84,131</text></g><g id="n85-131" transform="translate(4881 3293)"><use href="#w"/><text>85,131</text></g>
<g id="n13-132" transform="translate(159 3389)"><use href="#w"/><text>13,132</text></g><g id="n14-132" transform="translate(279 3389)"><use href="#w"/><text>14,132</text></g><g id="n15-132" transform="translate(399 3389)"><use href="#w"/><text>15,132</text></g><g id="n16-132" transform="translate(519 3389)"><use href="#w"/><text>16,132</text></g><g id="n17-132" transform="translate(639 3389)"><use href="#w"/><text>17,132</text></g><g id="n18-132" transform="translate(759 3389)"><use href="#w"/><text>18,132</text></g><g id="n19-132" transform="translate(879 3389)"><use href="#w"/><text>19,132</text></g><g id="n20-132" transform="translate(999 3389)"><use href="#w"/><text>20,132</text></g><g id="n84-132" transform="translate(4761 3389)"><use href="#w"/><text>84,132</text></g><g id="n85-132" transform="translate(4881 3389)"><use href="#w"/><text>85,132</text></g>
<g id="n17-133" transform="translate(639 3485)"><use href="#w"/><text>17,133</text></g><g id="n18-133" transform="translate(759 3485)"><use href="#w"/><text>18,133</text></g><g id="n19-133" transform="translate(879 3485)"><use href="#w"/><text>19,133</text></g><g id="n20-133" transform="translate(999 3485)"><use href="#w"/><text>20,133</text></g><g id="n21-133" transform="translate(1119 3485)"><use href="#w"/><text>21,133</text></g><g id="n22-133" transform="translate(1239 3485)"><use href="#w"/><text>22,133</text></g><g id="n23-133" transform="translate(1359 3485)"><use href="#w"/><text>23,133</text></g><g id="n24-133" transform="translate(1479 3485)"><use href="#w"/><text>24,133</text></g><g id="n25-133" transform="translate(1599 3485)"><use href="#w"/><text>25,133</text></g><g id="n26-133" transform="translate(1719 3485)"><use href="#w"/><text>26,133</text></g><g id="n27-133" transform="translate(1839 3485)"><use href="#w"/><text>27,133</text></g><g id="n28-133" transform="translate(1959 3485)"><use href="#w"/><text>28,133</text></g><g id="n29-133" transform="translate(2079 3485)"><use href="#w"/><text>29,133</text></g><g id="n30-133" transform="translate(2199 3485)"><use href="#w"/><text>30,133</text></g><g id="n31-133" transform="translate(2319 3485)"><use href="#w"/><text>31,133</text></g><g id="n32-133" transform="translate(2439 3485)"><use href="#w"/><text>32,133</text></g><g id="n33-133" transform="translate(2559 3485)"><use href="#w"/><text>33,133</text></g><g id="n34-133" transform="translate(2679 3485)"><use href="#w"/><text>34,133</text></g><g id="n35-133" transform="translate(2799 3485)"><use href="#w"/><text>35,133</text></g>
<g id="n17-134" transform="translate(639 3581)"><use href="#w"/><text>17,134</text></g><g id="n18-134" transform="translate(759 3581)"><use href="#w"/><text>18,134</text></g><g id="n19-134" transform="translate(879 3581)"><use href="#w"/><text>19,134</text></g><g id="n20-134" transform="translate(999 3581)"><use href="#w"/><text>20,134</text></g><g id="n21-134" transform="translate(1119 3581)"><use href="#w"/><text>21,134</text></g><g id="n22-134" transform="translate(1239 3581)"><use href="#w"/><text>22,134</text></g><g id="n23-134" transform="translate(1359 3581)"><use href="#w"/><text>23,134</text></g><g id="n24-134" transform="translate(1479 3581)"><use href="#w"/><text>24,134</text></g><g id="n25-134" transform="translate(1599 3581)"><use href="#w"/><text>25,134</text></g><g id="n26-134" transform="translate(1719 3581)"><use href="#w"/><text>26,134</text></g><g id="n27-134" transform="translate(1839 3581)"><use href="#w"/><text>27,134</text></g><g id="n28-134" transform="translate(1959 3581)"><use href="#w"/><text>28,134</text></g><g id="n29-134" transform="translate(2079 3581)"><use href="#w"/><text>29,134</text></g><g id="n30-134" transform="translate(2199 3581)"><use href="#w"/><text>30,134</text></g><g id="n31-134" transform="translate(2319 3581)"><use href="#w"/><text>31,134</text></g><g id="n32-134" transform="translate(2439 3581)"><use href="#w"/><text>32,134</text></g><g id="n33-134" transform="translate(2559 3581)"><use href="#w"/><text>33,134</text></g><g id="n34-134" transform="translate(2679 3581)"><use href="#w"/><text>34,134</text></g><g id="n35-134" transform="translate(2799 3581)"><use href="#w"/><text>35,134</text></g>
<g id="n17-135" transform="translate(639 3677)"><use href="#w"/><text>17,135</text></g><g id="n18-135" transform="translate(759 3677)"><use href="#w"/><text>18,135</text></g><g id="n19-135" transform="translate(879 3677)"><use href="#w"/><text>19,135</text></g><g id="n20-135" transform="translate(999 3677)"><use href="#w"/><text>20,135</text></g><g id="n21-135" transform="translate(1119 3677)"><use href="#w"/><text>21,135</text></g><g id="n22-135" transform="translate(1239 3677)"><use href="#w"/><text>22,135</text></g><g id="n23-135" transform="translate(1359 3677)"><use href="#w"/><text>23,135</text></g><g id="n24-135" transform="translate(1479 3677)"><use href="#w"/><text>24,135</text></g><g id="n25-135" transform="translate(1599 3677)"><use href="#w"/><text>25,135</text></g><g id="n26-135" transform="translate(1719 3677)"><use href="#w"/><text>26,135</text></g><g id="n27-135" transform="translate(1839 3677)"><use href="#w"/><text>27,135</text></g><g id="n28-135" transform="translate(1959 3677)"><use href="#w"/><text>28,135</text></g><g id="n29-135" transform="translate(2079 3677)"><use href="#w"/><text>29,135</text></g><g id="n30-135" transform="translate(2199 3677)"><use href="#w"/><text>30,135</text></g><g id="n31-135" transform="translate(2319 3677)"><use href="#w"/><text>31,135</text></g><g id="n32-135" transform="translate(2439 3677)"><use href="#w"/><text>32,135</text></g><g id="n33-135" transform="translate(2559 3677)"><use href="#w"/><text>33,135</text></g><g id="n34-135" transform="translate(2679 3677)"><use href="#w"/><text>34,135</text></g><g id="n35-135" transform="translate(2799 3677)"><use href="#w"/><text>35,135</text></g>
<g id="n17-136" transform="translate(639 3773)"><use href="#w"/><text>17,136</text></g><g id="n18-136" transform="translate(759 3773)"><use href="#w"/><text>18,136</text></g><g id="n19-136" transform="translate(879 3773)"><use href="#w"/><text>19,136</text></g><g id="n20-136" transform="translate(999 3773)"><use href="#w"/><text>20,136</text></g><g id="n21-136" transform="translate(1119 3773)"><use href="#w"/><text>21,136</text></g><g id="n22-136" transform="translate(1239 3773)"><use href="#w"/><text>22,136</text></g><g id="n23-136" transform="translate(1359 3773)"><use href="#w"/><text>23,136</text></g><g id="n24-136" transform="translate(1479 3773)"><use href="#w"/><text>24,136</text></g><g id="n25-136" transform="translate(1599 3773)"><use href="#w"/><text>25,136</text></g><g id="n26-136" transform="translate(1719 3773)"><use href="#w"/><text>26,136</text></g><g id="n27-136" transform="translate(1839 3773)"><use href="#w"/><text>27,136</text></g><g id="n28-136" transform="translate(1959 3773)"><use href="#w"/><text>28,136</text></g><g id="n29-136" transform="translate(2079 3773)"><use href="#w"/><text>29,136</text></g><g id="n30-136" transform="translate(2199 3773)"><use href="#w"/><text>30,136</text></g><g id="n31-136" transform="translate(2319 3773)"><use href="#w"/><text>31,136</text></g><g id="n32-136" transform="translate(2439 3773)"><use href="#w"/><text>32,136</text></g><g id="n33-136" transform="translate(2559 3773)"><use href="#w"/><text>33,136</text></g><g id="n34-136" transform="translate(2679 3773)"><use href="#w"/><text>34,136</text></g><g id="n35-136" transform="translate(2799 3773)"><use href="#w"/><text>35,136</text></g>
</g>
<g class="yl">
<g id="n54-109" transform="translate(3491 1181)"><use href="#w"/><text>54,109</text></g><g id="n55-109" transform="translate(3611 1181)"><use href="#w"/><text>55,109</text></g><g id="n56-109" transform="translate(3731 1181)"><use href="#w"/><text>56,109</text></g><g id="n57-109" transform="translate(3851 1181)"><use href="#w"/><text>57,109</text></g><g id="n58-109" transform="translate(3971 1181)"><use href="#w"/><text>58,109</text></g><g id="n59-109" transform="translate(4091 1181)"><use href="#w"/><text>59,109</text></g><g id="n60-109" transform="translate(4211 1181)"><use href="#w"/><text>60,109</text></g><g id="n61-109" transform="translate(4330 1181)"><use href="#w"/><text>61,109</text></g><g id="n80-109" transform="translate(4532 1181)"><use href="#w"/><text>80,109</text></g><g id="n81-109" transform="translate(4652 1181)"><use href="#w"/><text>81,109</text></g>
<g id="n54-110" transform="translate(3491 1277)"><use href="#w"/><text>54,110</text></g><g id="n55-110" transform="translate(3611 1277)"><use href="#w"/><text>55,110</text></g><g id="n56-110" transform="translate(3731 1277)"><use href="#w"/><text>56,110</text></g><g id="n57-110" transform="translate(3851 1277)"><use href="#w"/><text>57,110</text></g><g id="n58-110" transform="translate(3971 1277)"><use href="#w"/><text>58,110</text></g><g id="n59-110" transform="translate(4091 1277)"><use href="#w"/><text>59,110</text></g><g id="n60-110" transform="translate(4211 1277)"><use href="#w"/><text>60,110</text></g><g id="n61-110" transform="translate(4330 1277)"><use href="#w"/><text>61,110</text></g><g id="n80-110" transform="translate(4532 1277)"><use href="#w"/><text>80,110</text></g><g id="n81-110" transform="translate(4652 1277)"><use href="#w"/><text>81,110</text></g>
<g id="n54-111" transform="translate(3491 1373)"><use href="#w"/><text>54,111</text></g><g id="n55-111" transform="translate(3611 1373)"><use href="#w"/><text>55,111</text></g><g id="n56-111" transform="translate(3731 1373)"><use href="#w"/><text>56,111</text></g><g id="n57-111" transform="translate(3851 1373)"><use href="#w"/><text>57,111</text></g><g id="n58-111" transform="translate(3971 1373)"><use href="#w"/><text>58,111</text></g><g id="n59-111" transform="translate(4091 1373)"><use href="#w"/><text>59,111</text></g><g id="n60-111" transform="translate(4211 1373)"><use href="#w"/><text>60,111</text></g><g id="n61-111" transform="translate(4330 1373)"><use href="#w"/><text>61,111</text></g><g id="n80-111" transform="translate(4532 1373)"><use href="#w"/><text>80,111</text></g><g id="n81-111" transform="translate(4652 1373)"><use href="#w"/><text>81,111</text></g>
<g id="n54-112" transform="translate(3491 1469)"><use href="#w"/><text>54,112</text></g><g id="n55-112" transform="translate(3611 1469)"><use href="#w"/><text>55,112</text></g><g id="n56-112" transform="translate(3731 1469)"><use href="#w"/><text>56,112</text></g><g id="n57-112" transform="translate(3851 1469)"><use href="#w"/><text>57,112</text></g><g id="n58-112" transform="translate(3971 1469)"><use href="#w"/><text>58,112</text></g><g id="n59-112" transform="translate(4091 1469)"><use href="#w"/><text>59,112</text></g><g id="n60-112" transform="translate(4211 1469)"><use href="#w"/><text>60,112</text></g><g id="n61-112" transform="translate(4330 1469)"><use href="#w"/><text>61,112</text></g><g id="n80-112" transform="translate(4532 1469)"><use href="#w"/><text>80,112</text></g><g id="n81-112" transform="translate(4652 1469)"><use href="#w"/><text>81,112</text></g>
<g id="n58-113" transform="translate(3971 1565)"><use href="#w"/><text>58,113</text></g><g id="n59-113" transform="translate(4091 1565)"><use href="#w"/><text>59,113</text></g><g id="n60-113" transform="translate(4211 1565)"><use href="#w"/><text>60,113</text></g><g id="n61-113" transform="translate(4330 1565)"><use href="#w"/><text>61,113</text></g>
<g id="n58-114" transform="translate(3971 1661)"><use href="#w"/><text>58,114</text></g><g id="n59-114" transform="translate(4091 1661)"><use href="#w"/><text>59,114</text></g><g id="n60-114" transform="translate(4211 1661)"><use href="#w"/><text>60,114</text></g><g id="n61-114" transform="translate(4330 1661)"><use href="#w"/><text>61,114</text></g>
<g id="n58-115" transform="translate(3971 1757)"><use href="#w"/><text>58,115</text></g><g id="n59-115" transform="translate(4091 1757)"><use href="#w"/><text>59,115</text></g><g id="n60-115" transform="translate(4211 1757)"><use href="#w"/><text>60,115</text></g><g id="n61-115" transform="translate(4330 1757)"><use href="#w"/><text>61,115</text></g>
</g>
</g>
</g>
</svg>
